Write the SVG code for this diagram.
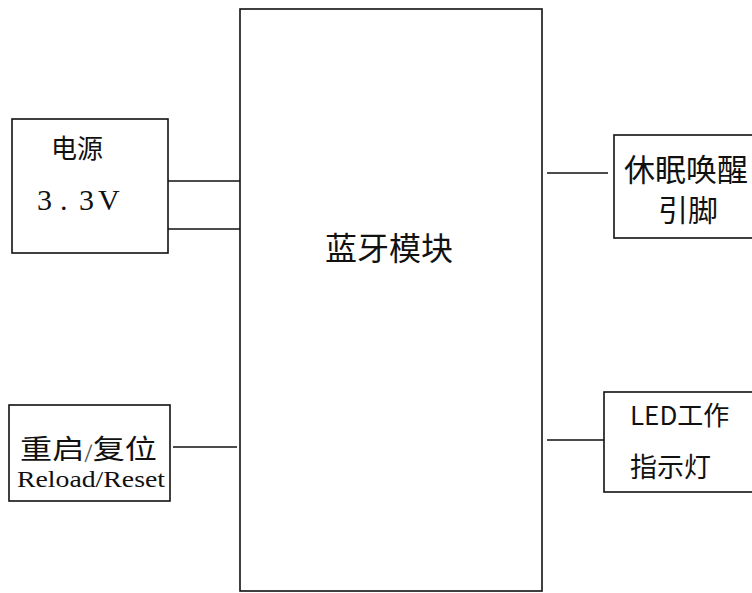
<svg xmlns="http://www.w3.org/2000/svg" width="752" height="593" viewBox="0 0 752 593">
<style>
.box{fill:#fff;stroke:#111;stroke-width:1.6}
.ln{stroke:#111;stroke-width:1.4;fill:none}
.cjk{font-family:"Noto Sans CJK SC","Noto Sans",sans-serif;fill:#111}
.ser{font-family:"Liberation Serif","Noto Sans CJK SC",serif;fill:#111}
</style>
<rect width="752" height="593" fill="#fff"/>
<g id="connectors">
<line class="ln" x1="168" y1="181" x2="240" y2="181"/>
<line class="ln" x1="168" y1="229" x2="240" y2="229"/>
<line class="ln" x1="173" y1="447" x2="237" y2="447"/>
<line class="ln" x1="547" y1="173" x2="608" y2="173"/>
<line class="ln" x1="547" y1="440" x2="604" y2="440"/>
</g>
<g id="bt">
<rect class="box" x="240" y="9" width="302" height="582" stroke-width="2.2"/>
<text class="cjk" x="389" y="260" font-size="32" text-anchor="middle">蓝牙模块</text>
</g>
<g id="power">
<rect class="box" x="12" y="119" width="156" height="134"/>
<text class="cjk" x="77" y="158" font-size="26" text-anchor="middle">电源</text>
<text class="ser" font-size="30" y="210" fill="#222"><tspan x="37">3</tspan><tspan x="60">.</tspan><tspan x="79">3</tspan><tspan x="98">V</tspan></text>
</g>
<g id="reset">
<rect class="box" x="9" y="405" width="161" height="96"/>
<text class="cjk" x="20" y="459" font-size="27" textLength="137" lengthAdjust="spacingAndGlyphs">重启<tspan font-size="18" fill="#555">/</tspan>复位</text>
<text class="ser" x="17" y="487" font-size="23" textLength="148" lengthAdjust="spacingAndGlyphs">Reload/Reset</text>
</g>
<g id="wake">
<rect class="box" x="614" y="135" width="150" height="103"/>
<text class="cjk" x="624" y="181" font-size="31">休眠唤醒</text>
<text class="cjk" x="688" y="221" font-size="30" text-anchor="middle">引脚</text>
</g>
<g id="led">
<rect class="box" x="604" y="392" width="160" height="100"/>
<text class="cjk" x="630" y="425" font-size="26">LED工作</text>
<text class="cjk" x="630" y="477" font-size="27">指示灯</text>
</g>
</svg>
